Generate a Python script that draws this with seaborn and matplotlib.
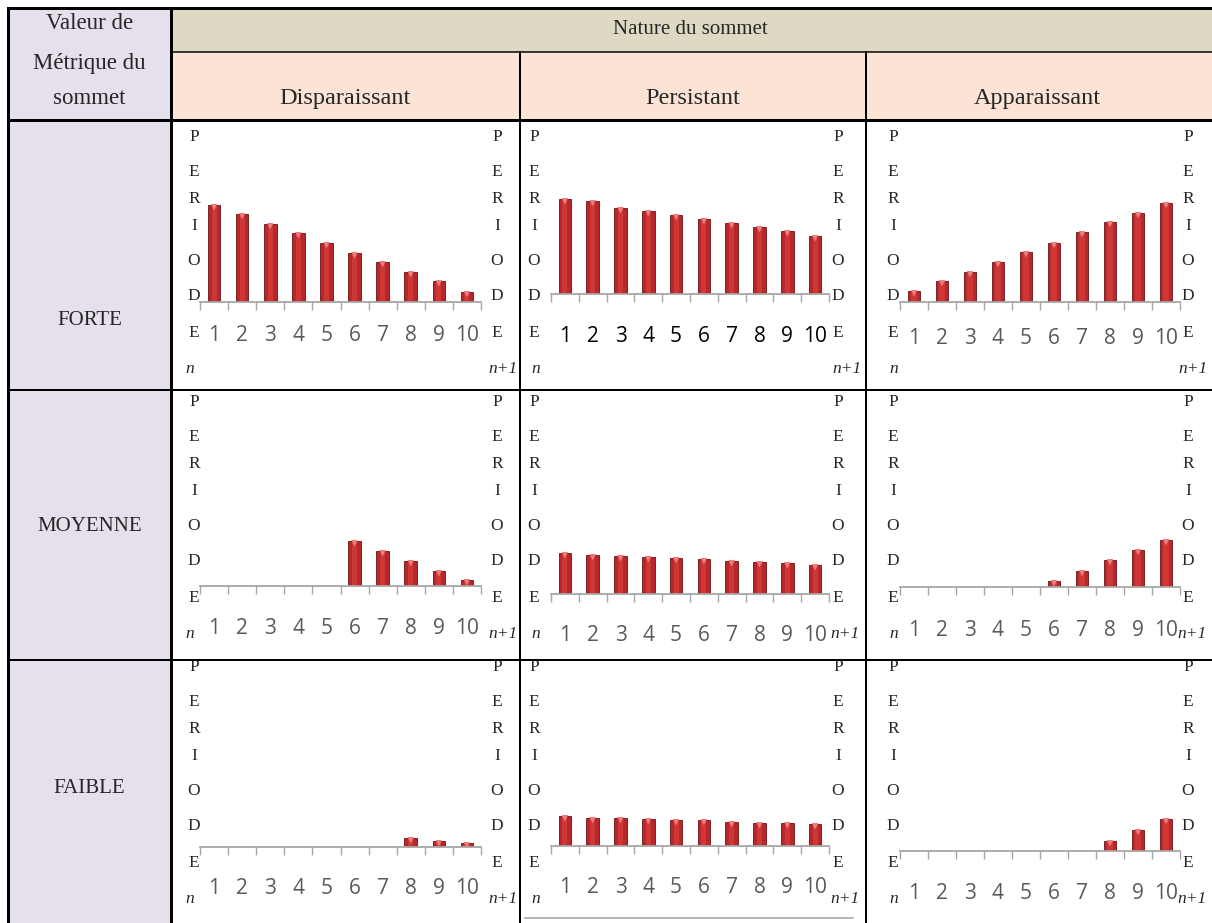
"""
Tableau : nature du sommet x valeur de metrique du sommet,
avec un petit histogramme par cellule (periodes 1 a 10).
"""

import numpy as np
import matplotlib
matplotlib.use("Agg")
import matplotlib.pyplot as plt
import seaborn as sns
from matplotlib.patches import Rectangle
from matplotlib.lines import Line2D

# ==============================================================================
# DATA
# ==============================================================================

ROW_LABELS = ["FORTE", "MOYENNE", "FAIBLE"]
COL_LABELS = ["Disparaissant", "Persistant", "Apparaissant"]
PERIODS    = [str(i) for i in range(1, 11)]
VERT_WORD  = "PERIODE"

# hauteurs relatives des barres
FORTE_DISP = [97, 88, 78, 69, 59, 49, 40, 30, 21, 10]
FORTE_PERS = [95, 93, 86, 83, 79, 75, 71, 67, 63, 58]
FORTE_APP  = [11, 21, 30, 40, 50, 59, 70, 80, 89, 99]
MOY_DISP   = [0, 0, 0, 0, 0, 45, 35, 25, 15, 6]
MOY_PERS   = [41, 39, 38, 37, 36, 35, 33, 32, 31, 29]
MOY_APP    = [0, 0, 0, 0, 0, 6, 16, 27, 37, 47]
FAI_DISP   = [0, 0, 0, 0, 0, 0, 0, 9, 6, 4]
FAI_PERS   = [30, 28, 28, 27, 26, 26, 24, 23, 23, 22]
FAI_APP    = [0, 0, 0, 0, 0, 0, 0, 10, 21, 32]

CELL_VALUES = [
    [FORTE_DISP, FORTE_PERS, FORTE_APP],
    [MOY_DISP,   MOY_PERS,   MOY_APP],
    [FAI_DISP,   FAI_PERS,   FAI_APP],
]

# ==============================================================================
# LAYOUT (pixels, origine en haut a gauche)
# ==============================================================================

W, H = 1212, 923
X_LEFT, X_COL1, X_COL2, X_COL3 = 8, 171, 520, 866
Y_TOP, Y_HEAD1, Y_HEAD2 = 8, 52, 120
Y_ROWS = [120, 390, 660]

AX_X      = [(200, 481), (551, 829), (900, 1180)]
BASELINE  = [[302, 294, 302], [586, 594, 587], [847, 846, 851]]
LABEL_OFF = [[34, 43, 37], [43, 42, 44], [42, 42, 43]]
AX_HEIGHT = 110

P_Y        = [135, 400, 665]
LETTER_OFF = [0, 35, 62, 89, 124, 159, 196]
LEFT_X     = [194, 534, 893]
RIGHT_X    = [497, 838, 1188]
N_Y        = [367, 632, 897]
N_X        = [190, 536, 894]
N1_X       = [[503, 847, 1193], [503, 845, 1192], [503, 845, 1192]]
ROW_TXT_Y  = [318, 524, 786]

BAR_COLOR = "#BA272A"
BAR_EDGE  = "#6A1214"
BAR_LIGHT = "#DC4542"
TICK_GRAY = "#595959"
AXIS_GRAY = "#A6A6A6"

SERIF = ["Liberation Serif", "DejaVu Serif"]
SANS  = ["Open Sans", "DejaVu Sans"]


def fx(x):
    return x / W


def fy(y):
    return 1 - y / H


def hline(fig, y, x0, x1, lw, color="black"):
    fig.add_artist(Line2D([fx(x0), fx(x1)], [fy(y), fy(y)], transform=fig.transFigure,
                          color=color, lw=lw * 0.72, solid_capstyle="projecting", zorder=5))


def vline(fig, x, y0, y1, lw, color="black"):
    fig.add_artist(Line2D([fx(x), fx(x)], [fy(y0), fy(y1)], transform=fig.transFigure,
                          color=color, lw=lw * 0.72, solid_capstyle="projecting", zorder=5))


def rect(fig, x0, y0, x1, y1, color):
    fig.add_artist(Rectangle((fx(x0), fy(y1)), fx(x1) - fx(x0), fy(y0) - fy(y1),
                             transform=fig.transFigure, facecolor=color,
                             edgecolor="none", zorder=-5))


def mini_bars(fig, values, r, c):
    x0, x1 = AX_X[c]
    base = BASELINE[r][c]
    ax = fig.add_axes([fx(x0), fy(base), fx(x1) - fx(x0), AX_HEIGHT / H])
    ax.set_facecolor("none")

    sns.barplot(x=PERIODS, y=values, color=BAR_COLOR, width=0.45,
                edgecolor=BAR_EDGE, linewidth=0.6, saturation=1, ax=ax)
    sns.barplot(x=PERIODS, y=values, color=BAR_LIGHT, width=0.18,
                linewidth=0, saturation=1, alpha=0.55, ax=ax)
    vals = np.array(values, dtype=float)
    keep = vals >= 4
    ax.scatter(np.arange(10)[keep], vals[keep] - 2.2, marker="v", s=22,
               color="#EE7E7E", edgecolors="none", zorder=4)

    ax.set_xlim(-0.5, 9.5)
    ax.set_ylim(0, AX_HEIGHT)
    ax.set_xlabel("")
    ax.set_ylabel("")
    ax.set_yticks([])
    for side in ["left", "top", "right"]:
        ax.spines[side].set_visible(False)
    ax.spines["bottom"].set_color(AXIS_GRAY)
    ax.spines["bottom"].set_linewidth(1.3)

    ax.set_xticks(np.arange(-0.5, 10.0, 1.0))
    ax.set_xticklabels([])
    ax.tick_params(axis="x", which="major", bottom=True, length=6, width=1.0,
                   color=AXIS_GRAY, direction="out")
    ax.set_xticks(np.arange(10), minor=True)
    ax.set_xticklabels(PERIODS, minor=True)
    lab_color = "black" if (r == 0 and c == 1) else TICK_GRAY
    pad = (LABEL_OFF[r][c] - 11) * 0.72
    ax.tick_params(axis="x", which="minor", bottom=True, length=0, pad=pad,
                   labelsize=15, labelcolor=lab_color)
    for t in ax.get_xticklabels(minor=True):
        t.set_fontfamily(SANS)
    return ax


# ==============================================================================
# MAIN
# ==============================================================================

sns.set_style("white")
plt.rcParams["font.family"] = SERIF

fig = plt.figure(figsize=(W / 100, H / 100), dpi=100)
fig.patch.set_facecolor("white")

# fonds
rect(fig, X_LEFT, Y_TOP, X_COL1, H, "#E5E0EC")
rect(fig, X_COL1, Y_TOP, W, Y_HEAD1, "#DDD9C3")
rect(fig, X_COL1, Y_HEAD1, W, Y_HEAD2, "#FBE4D5")

# bordures
hline(fig, Y_TOP, X_LEFT, W, 3)
hline(fig, Y_HEAD1, X_COL1, W, 1.5)
hline(fig, Y_HEAD2, X_LEFT, W, 3)
for y in Y_ROWS[1:]:
    hline(fig, y, X_LEFT, W, 2)
vline(fig, X_LEFT, Y_TOP, H, 3)
vline(fig, X_COL1, Y_TOP, H, 3)
vline(fig, X_COL2, Y_HEAD1, H, 2)
vline(fig, X_COL3, Y_HEAD1, H, 2)
hline(fig, 918, 525, 853, 1.5, color="#A0A0A0")

# en-tetes (positionnes sur la ligne de base)
for txt, y in zip(["Valeur de", "Métrique du", "sommet"], [29, 69, 104]):
    fig.text(fx(89.5), fy(y), txt, ha="center", va="baseline", fontsize=16.5)
fig.text(fx(690), fy(34), "Nature du sommet", ha="center", va="baseline", fontsize=15)
for txt, xc in zip(COL_LABELS, [345, 693, 1037]):
    fig.text(fx(xc), fy(104), txt, ha="center", va="baseline", fontsize=17.5)
for txt, y in zip(ROW_LABELS, ROW_TXT_Y):
    fig.text(fx(89.5), fy(y), txt, ha="center", va="center_baseline", fontsize=15)

# petits histogrammes
for r in range(3):
    for c in range(3):
        mini_bars(fig, CELL_VALUES[r][c], r, c)
        for letter, off in zip(VERT_WORD, LETTER_OFF):
            for xl in (LEFT_X[c], RIGHT_X[c]):
                fig.text(fx(xl), fy(P_Y[r] + off), letter, ha="center",
                         va="center_baseline", fontsize=12.5)
        fig.text(fx(N_X[c]), fy(N_Y[r]), "n", ha="center", va="center_baseline",
                 fontsize=12.5, style="italic")
        fig.text(fx(N1_X[r][c]), fy(N_Y[r]), "n+1", ha="center", va="center_baseline",
                 fontsize=12.5, style="italic")

fig.savefig("out.png", dpi=100)
